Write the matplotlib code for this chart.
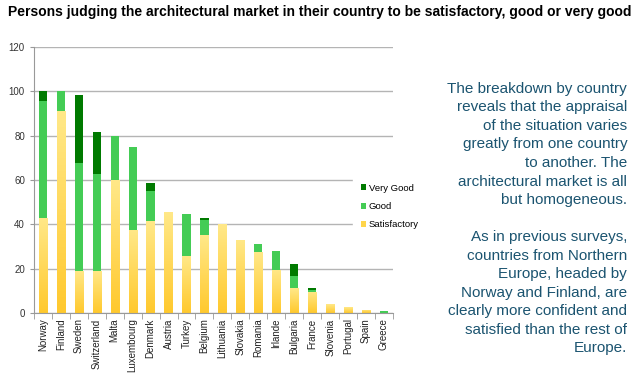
import numpy as np
import matplotlib
matplotlib.use("Agg")
import matplotlib.pyplot as plt
from matplotlib.colors import LinearSegmentedColormap

countries = ["Norway", "Finland", "Sweden", "Switzerland", "Malta", "Luxembourg",
             "Denmark", "Austria", "Turkey", "Belgium", "Lithuania", "Slovakia",
             "Romania", "Irlande", "Bulgaria", "France", "Slovenia", "Portugal",
             "Spain", "Greece"]
satisfactory = [43, 91, 19, 19, 60, 37.5, 41.5, 45.5, 25.5, 35, 40, 33, 27.5, 19.5, 11, 9.5, 4, 2.5, 1.5, 0]
good = [52.5, 9, 48.5, 43.5, 20, 37.5, 13.5, 0, 19, 7, 0, 0, 3.5, 8.5, 5.5, 1, 0, 0, 0, 1]
very_good = [4.5, 0, 31, 19, 0, 0, 3.5, 0, 0, 0.8, 0, 0, 0, 0, 5.5, 0.6, 0, 0, 0, 0]

title = "Persons judging the architectural market in their country to be satisfactory, good or very good"
side_text = ("The breakdown by country\nreveals that the appraisal\nof the situation varies\n"
             "greatly from one country\nto another. The\narchitectural market is all\n"
             "but homogeneous.\n\nAs in previous surveys,\ncountries from Northern\n"
             "Europe, headed by\nNorway and Finland, are\nclearly more confident and\n"
             "satisfied than the rest of\nEurope.")

plt.rcParams['font.family'] = ['Liberation Sans', 'DejaVu Sans']

fig = plt.figure(figsize=(6.4, 3.76), dpi=100)
ax = fig.add_axes([0.053, 0.168, 0.561, 0.707])

x = np.arange(len(countries))
w = 0.46
sat = np.array(satisfactory)
gd = np.array(good)
vg = np.array(very_good)

sat_bars = ax.bar(x, sat, w, color="#ffd54a", zorder=2, label="Satisfactory")
ax.bar(x, gd, w, bottom=sat, color="#44cc55", zorder=2, label="Good")
ax.bar(x, vg, w, bottom=sat + gd, color="#007a00", zorder=2, label="Very Good")

# vertical gradient on the satisfactory bars
grad = LinearSegmentedColormap.from_list("sat", ["#ffc92e", "#ffe888"])
for b in sat_bars:
    h = b.get_height()
    if h <= 0:
        continue
    x0 = b.get_x()
    im = ax.imshow(np.linspace(0, 1, 64).reshape(-1, 1), cmap=grad, origin="lower",
                   extent=[x0, x0 + b.get_width(), 0, h], aspect="auto", zorder=2.5)
    im.set_clip_path(b)

ax.set_xlim(-0.5, len(countries) - 0.5)
ax.set_ylim(0, 120)
ax.set_yticks(range(0, 121, 20))
ax.yaxis.grid(True, color="#b4b4b4", linewidth=1)
ax.set_axisbelow(True)
ax.set_xticks(x)
ax.set_xticklabels(countries, rotation=90, fontsize=7, color="#222222")
ax.tick_params(axis="x", length=0, pad=4)
ax.set_xticks(np.arange(-0.5, len(countries)), minor=True)
ax.tick_params(axis="x", which="minor", length=4, color="#999999")
ax.tick_params(axis="y", labelsize=7, labelcolor="#333333", length=3, color="#999999")
for s in ["top", "right"]:
    ax.spines[s].set_visible(False)
for s in ["left", "bottom"]:
    ax.spines[s].set_color("#999999")

handles, labels = ax.get_legend_handles_labels()
leg = ax.legend(handles[::-1], labels[::-1], loc="center left", bbox_to_anchor=(0.888, 0.40),
                frameon=True, fontsize=6.8, handlelength=0.55, handleheight=0.55,
                handletextpad=0.25, labelspacing=1.0, borderpad=0.9, borderaxespad=0)
leg.get_frame().set_edgecolor("white")
leg.get_frame().set_facecolor("white")
leg.get_frame().set_alpha(1)
leg.set_zorder(5)

fig.text(0.012, 0.967, title, fontsize=10, fontweight="bold", ha="left", va="center")
fig.text(0.98, 0.782, side_text, fontsize=11, color="#1b5470", ha="right", va="top",
         multialignment="right", linespacing=1.41)

fig.savefig("out.png", dpi=100)
